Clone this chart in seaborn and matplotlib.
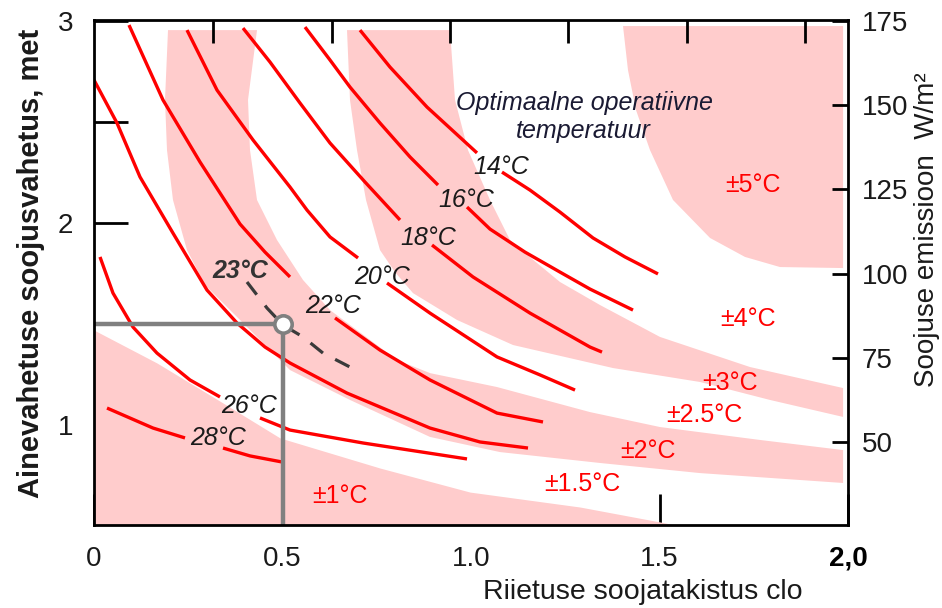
import numpy as np
import pandas as pd
import matplotlib
matplotlib.use("Agg")
import matplotlib.pyplot as plt
import seaborn as sns

# ---------------- data (x = clothing insulation, clo ; y = activity, met) -------------
# optimal operative temperature lines, each drawn in two parts (broken at its label)
t14_a_clo = [0.7056, 0.7851, 0.8833, 1.0159]
t14_a_met = [2.955, 2.772, 2.574, 2.347]
t14_b_clo = [1.0822, 1.1565, 1.2361, 1.3236, 1.4085, 1.4960]
t14_b_met = [2.252, 2.163, 2.054, 1.926, 1.832, 1.748]

t16_a_clo = [0.5597, 0.6260, 0.6790, 0.7586, 0.8382, 0.9125]
t16_a_met = [2.970, 2.807, 2.673, 2.495, 2.327, 2.188]
t16_b_clo = [0.9894, 1.0504, 1.1432, 1.2361, 1.3156, 1.4297]
t16_b_met = [2.079, 1.970, 1.856, 1.757, 1.673, 1.569]

t18_a_clo = [0.3952, 0.4668, 0.5464, 0.6260, 0.7188, 0.8117]
t18_a_met = [2.965, 2.797, 2.594, 2.396, 2.203, 2.015]
t18_b_clo = [0.8966, 1.0053, 1.1565, 1.3156, 1.3475]
t18_b_met = [1.891, 1.733, 1.554, 1.386, 1.361]

t20_a_clo = [0.2467, 0.3263, 0.4218, 0.5199, 0.5650, 0.6260, 0.7003]
t20_a_met = [2.955, 2.658, 2.411, 2.178, 2.064, 1.931, 1.827]
t20_b_clo = [0.7772, 0.8912, 1.0690, 1.1830, 1.2759]
t20_b_met = [1.703, 1.554, 1.337, 1.248, 1.173]

t22_a_clo = [0.0928, 0.1830, 0.2812, 0.3873, 0.4536, 0.5199]
t22_a_met = [2.980, 2.609, 2.302, 1.995, 1.856, 1.733]
t22_b_clo = [0.6393, 0.7586, 0.8912, 1.0690, 1.1910]
t22_b_met = [1.530, 1.371, 1.223, 1.059, 1.015]

t24_clo = [0.0, 0.0610, 0.1220, 0.2095, 0.2997, 0.3793, 0.4536, 0.5199, 0.6711, 0.8912, 1.0239, 1.1512]
t24_met = [2.708, 2.495, 2.228, 1.950, 1.668, 1.505, 1.386, 1.307, 1.158, 0.985, 0.916, 0.886]

t26_a_clo = [0.0159, 0.0504, 0.1034, 0.1671, 0.2546, 0.3342]
t26_a_met = [1.832, 1.653, 1.485, 1.356, 1.223, 1.139]
t26_b_clo = [0.4403, 0.5199, 0.7135, 0.9894]
t26_b_met = [1.035, 0.975, 0.911, 0.832]

t28_a_clo = [0.0345, 0.1565, 0.2414]
t28_a_met = [1.084, 0.985, 0.936]
t28_b_clo = [0.3422, 0.4138, 0.4987]
t28_b_met = [0.886, 0.847, 0.817]

# 23 °C dashed line through the reference point
t23_clo = [0.4058, 0.4589, 0.5013, 0.5544, 0.6074, 0.6790]
t23_met = [1.708, 1.579, 1.495, 1.436, 1.356, 1.287]

# reference point (0.5 clo, 1.5 met)
ref_clo = 0.5
ref_met = 1.5

# tolerance bands (pink)
band1_upper_clo = [0.0, 0.1671, 0.3422, 0.4934, 0.7586, 0.9973, 1.2891, 1.5013, 1.581]
band1_upper_met = [1.470, 1.307, 1.109, 0.936, 0.787, 0.668, 0.594, 0.520, 0.490]

band2_lower_clo = [0.1963, 0.1883, 0.1936, 0.2095, 0.2467, 0.2944, 0.3873, 0.5199, 0.6790, 0.8912, 1.0769, 1.3422, 1.6074, 1.987]
band2_lower_met = [2.955, 2.609, 2.361, 2.114, 1.866, 1.693, 1.520, 1.272, 1.124, 0.941, 0.866, 0.812, 0.762, 0.713]
band2_upper_clo = [0.4324, 0.4085, 0.4138, 0.4324, 0.4854, 0.5544, 0.6260, 0.8037, 0.8912, 1.0690, 1.3156, 1.5013, 1.7666, 1.987]
band2_upper_met = [2.955, 2.609, 2.361, 2.114, 1.916, 1.718, 1.569, 1.322, 1.257, 1.188, 1.064, 0.990, 0.926, 0.876]

band3_lower_clo = [0.6711, 0.6790, 0.6976, 0.7215, 0.7586, 0.7984, 0.8462, 0.9629, 1.1114, 1.3767, 1.6074, 1.7931, 1.987]
band3_lower_met = [2.955, 2.609, 2.361, 2.114, 1.866, 1.757, 1.653, 1.520, 1.396, 1.282, 1.213, 1.124, 1.040]
band3_upper_clo = [0.9443, 0.9576, 0.9920, 1.0504, 1.1034, 1.1751, 1.2361, 1.3422, 1.5013, 1.7401, 1.987]
band3_upper_met = [2.955, 2.609, 2.361, 2.114, 1.916, 1.802, 1.708, 1.594, 1.436, 1.287, 1.183]

band4_edge_clo = [1.4032, 1.4164, 1.4377, 1.4748, 1.5358, 1.6340, 1.7268, 1.8196, 1.987]
band4_edge_met = [2.975, 2.757, 2.559, 2.361, 2.114, 1.926, 1.832, 1.782, 1.777]

# labels
temp_labels = ["14°C", "16°C", "18°C", "20°C", "22°C", "26°C", "28°C"]
temp_label_clo = [1.0796, 0.9867, 0.8859, 0.7639, 0.6340, 0.4111, 0.3289]
temp_label_met = [2.275, 2.114, 1.928, 1.735, 1.589, 1.094, 0.938]

ref_label = "23°C"
ref_label_clo = 0.3873
ref_label_met = 1.762

band_labels = ["±1°C", "±1.5°C", "±2°C", "±2.5°C", "±3°C", "±4°C", "±5°C"]
band_label_clo = [0.6525, 1.2944, 1.4695, 1.6180, 1.6870, 1.7347, 1.7480]
band_label_met = [0.649, 0.708, 0.871, 1.050, 1.208, 1.525, 2.188]

title_lines = ["Optimaalne operatiivne", "temperatuur"]
title_clo = [1.2997, 1.2971]
title_met = [2.594, 2.455]

x_ticks = [0, 0.5, 1.0, 1.5, 2.0]
x_ticklabels = ["0", "0.5", "1.0", "1.5", "2,0"]
y_ticks = [1, 1.5, 2, 2.5, 3]
y_ticklabels = ["1", "", "2", "", "3"]
top_ticks = [0.316, 0.631, 0.944, 1.257, 1.573, 1.886]
right_ticks = [50, 75, 100, 125, 150, 175]

# ---------------- style ----------------
sns.set_style("ticks")
plt.rcParams['font.family'] = ['Liberation Sans', 'DejaVu Sans']

PINK = "#ffcccc"
RED = "#ff0000"
GREY = "#808080"
TXT = "#1a1a1a"

fig = plt.figure(figsize=(9.42, 6.08), dpi=100)
ax = fig.add_axes([94 / 942, 1 - 525 / 608, 754 / 942, 505 / 608])
ax.set_xlim(0, 2)
ax.set_ylim(0.505, 3.005)

# bands
ax.fill_between(band1_upper_clo, 0.3, band1_upper_met, color=PINK, lw=0, zorder=1)
ax.fill(np.r_[band2_lower_clo, band2_upper_clo[::-1]], np.r_[band2_lower_met, band2_upper_met[::-1]],
        color=PINK, lw=0, zorder=1)
ax.fill(np.r_[band3_lower_clo, band3_upper_clo[::-1]], np.r_[band3_lower_met, band3_upper_met[::-1]],
        color=PINK, lw=0, zorder=1)
ax.fill(np.r_[band4_edge_clo, band4_edge_clo[-1], band4_edge_clo[0]],
        np.r_[band4_edge_met, band4_edge_met[0], band4_edge_met[0]],
        color=PINK, lw=0, zorder=1)

# temperature lines
segments = [
    (t14_a_clo, t14_a_met), (t14_b_clo, t14_b_met),
    (t16_a_clo, t16_a_met), (t16_b_clo, t16_b_met),
    (t18_a_clo, t18_a_met), (t18_b_clo, t18_b_met),
    (t20_a_clo, t20_a_met), (t20_b_clo, t20_b_met),
    (t22_a_clo, t22_a_met), (t22_b_clo, t22_b_met),
    (t24_clo, t24_met),
    (t26_a_clo, t26_a_met), (t26_b_clo, t26_b_met),
    (t28_a_clo, t28_a_met), (t28_b_clo, t28_b_met),
]
for xs, ys in segments:
    sns.lineplot(x=xs, y=ys, ax=ax, sort=False, estimator=None, color=RED, lw=2.4,
                 solid_capstyle="butt", solid_joinstyle="round", zorder=2)

sns.lineplot(x=t23_clo, y=t23_met, ax=ax, sort=False, estimator=None, color="#3a3a3a",
             lw=2.3, linestyle=(0, (5.0, 4.3)), zorder=2)

# reference guide lines and point
ax.plot([ax.get_xlim()[0], ref_clo], [ref_met, ref_met], color=GREY, lw=3.2, zorder=2.2,
        solid_capstyle="butt")
ax.plot([ref_clo, ref_clo], [ref_met, ax.get_ylim()[0]], color=GREY, lw=3.2, zorder=2.2,
        solid_capstyle="butt")
ax.plot([ref_clo], [ref_met], marker="o", ms=12.5, mfc="white", mec=GREY, mew=2.6, zorder=3,
        linestyle="none")

# texts
for s, x, y in zip(temp_labels, temp_label_clo, temp_label_met):
    ax.text(x, y, s, fontsize=18, style="italic", color=TXT, ha="center", va="center", zorder=4)
ax.text(ref_label_clo, ref_label_met, ref_label, fontsize=18, style="italic", weight="bold",
        color="#333333", ha="center", va="center", zorder=4)
for s, x, y in zip(band_labels, band_label_clo, band_label_met):
    ax.text(x, y, s, fontsize=18, color=RED, ha="center", va="center", zorder=4)
for s, x, y in zip(title_lines, title_clo, title_met):
    ax.text(x, y, s, fontsize=18, style="italic", color="#1a1a33", ha="center", va="center", zorder=4)

# axes, ticks
for sp in ax.spines.values():
    sp.set_color("black")
    sp.set_linewidth(2.0)
ax.set_xticks(x_ticks)
ax.set_xticklabels(x_ticklabels)
ax.set_yticks(y_ticks)
ax.set_yticklabels(y_ticklabels)
ax.tick_params(axis="x", direction="in", length=22, width=2, pad=15, labelsize=20,
               colors="black", labelcolor=TXT)
ax.tick_params(axis="y", direction="in", length=24.5, width=2, pad=15, labelsize=20,
               colors="black", labelcolor=TXT)
lab = ax.get_xticklabels()[-1]
lab.set_fontweight("bold")
lab.set_color("black")

ax.set_xlabel("Riietuse soojatakistus clo", fontsize=20.5, color=TXT)
ax.xaxis.set_label_coords((643 - 94) / 754, (525 - 592) / 505)
ax.xaxis.label.set_va("center")
ax.set_ylabel("Ainevahetuse soojusvahetus, met", fontsize=21, weight="bold", color=TXT)
ax.yaxis.set_label_coords((31 - 94) / 754, (525 - 263.5) / 505)
ax.yaxis.label.set_va("center")

ax_top = ax.twiny()
ax_top.set_xlim(ax.get_xlim())
ax_top.set_xticks(top_ticks)
ax_top.tick_params(axis="x", direction="in", length=16.5, width=2, colors="black",
                   labeltop=False, labelbottom=False)
for sp in ax_top.spines.values():
    sp.set_visible(False)

ax2 = ax.twinx()
ax2.set_ylim(25.4, 175.2)
ax2.set_yticks(right_ticks)
ax2.tick_params(axis="y", direction="in", length=11.5, width=2, pad=10, labelsize=20,
                colors="black", labelcolor=TXT)
for sp in ax2.spines.values():
    sp.set_visible(False)
ax2.set_ylabel("Soojuse emissioon  W/m²", fontsize=20, color=TXT, rotation=90)
ax2.yaxis.set_label_coords((927 - 94) / 754, (525 - 230) / 505)
ax2.yaxis.label.set_va("center")
ax2.yaxis.label.set_ha("center")

fig.savefig("out.png", dpi=100)
